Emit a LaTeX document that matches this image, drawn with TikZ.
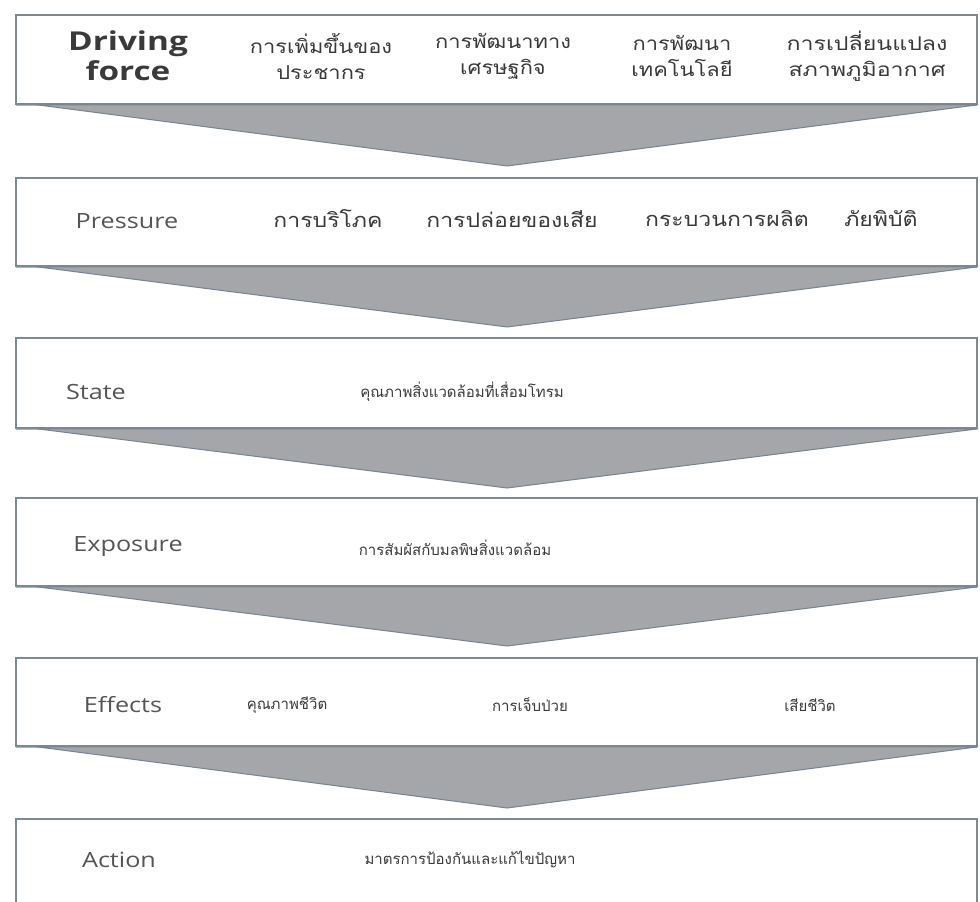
\documentclass[tikz,border=0pt]{standalone}
\usepackage{fontspec}
\setmainfont{Open Sans}
\newfontfamily\thaifont[Script=Thai]{Loma}
\usetikzlibrary{shadows}
\definecolor{boxc}{HTML}{7C8A96}
\definecolor{trifill}{HTML}{A4A6AA}
\definecolor{tridraw}{HTML}{76848F}
\definecolor{txt}{HTML}{3A3A3A}
\definecolor{labtxt}{HTML}{555555}
\newcommand\wideby[2]{\scalebox{#1}[1]{#2}}
\newcommand\wl[1]{\wideby{1.2}{#1}}
\newcommand\wt[1]{\wideby{1.15}{#1}}
\tikzset{
  stagebox/.style={draw=boxc, line width=1.8pt, fill=white, rectangle,
    minimum width=961pt, minimum height=#1, inner sep=0pt, anchor=north west,
    drop shadow={shadow xshift=0pt, shadow yshift=-2.5pt, fill=boxc!80, opacity=0.8}},
  tri/.style={fill=trifill, draw=tridraw, line width=1pt, line join=round},
  lab/.style={text=labtxt, font=\fontsize{21}{24}\selectfont, anchor=center},
  biglab/.style={text=txt, font=\fontsize{26}{30}\selectfont\bfseries, align=center, anchor=center},
  th/.style={text=txt, font=\thaifont\fontsize{20}{26}\selectfont, align=center, anchor=center},
  thtop/.style={text=txt, font=\thaifont\fontsize{19}{26}\selectfont, align=center, anchor=center},
  ths/.style={text=txt, font=\thaifont\fontsize{15}{20}\selectfont, anchor=center},
}
\begin{document}
\begin{tikzpicture}[x=1pt,y=-1pt]
\useasboundingbox (0,0) rectangle (980,902);
\fill[white] (0,0) rectangle (980,902);

% boxes
\node[stagebox=89pt] (b1) at (15,14) {};
\node[stagebox=88pt] (b2) at (15,177) {};
\node[stagebox=90pt] (b3) at (15,337) {};
\node[stagebox=88pt] (b4) at (15,497) {};
\node[stagebox=88pt] (b5) at (15,657) {};
\node[stagebox=110pt] (b6) at (15,818) {};

% apex coordinates
\coordinate (a1) at (507,166);
\coordinate (a2) at (507,327);
\coordinate (a3) at (507,488);
\coordinate (a4) at (507,646);
\coordinate (a5) at (507,808);

% arrows (triangles)
\filldraw[tri] ([xshift=22pt]b1.south west) -- (b1.south east) -- (a1) -- cycle;
\filldraw[tri] ([xshift=22pt]b2.south west) -- (b2.south east) -- (a2) -- cycle;
\filldraw[tri] ([xshift=22pt]b3.south west) -- (b3.south east) -- (a3) -- cycle;
\filldraw[tri] ([xshift=22pt]b4.south west) -- (b4.south east) -- (a4) -- cycle;
\filldraw[tri] ([xshift=22pt]b5.south west) -- (b5.south east) -- (a5) -- cycle;

% Driving force
\node[biglab] (df) at (128,56) {\wideby{1.28}{Driving}\\\wideby{1.28}{force}};
\node[thtop] (d1) at (321,56) {\wt{การเพิ่มขึ้นของ}\\\wt{ประชากร}};
\node[thtop] (d2) at (503,56) {\wt{การพัฒนาทาง}\\\wt{เศรษฐกิจ}};
\node[thtop] (d3) at (682,56) {\wt{การพัฒนา}\\\wt{เทคโนโลยี}};
\node[thtop] (d4) at (867,56) {\wideby{1.22}{การเปลี่ยนแปลง}\\\wideby{1.22}{สภาพภูมิอากาศ}};

% Pressure
\node[lab] (pr) at (127,221) {\wl{Pressure}};
\node[th] (p1) at (328,219) {\wt{การบริโภค}};
\node[th] (p2) at (512,219) {\wt{การปล่อยของเสีย}};
\node[th] (p3) at (727,219) {\wt{กระบวนการผลิต}};
\node[th] (p4) at (881,219) {\wt{ภัยพิบัติ}};

% State
\node[lab] (st) at (96,392) {\wl{State}};
\node[ths] (s1) at (462,392) {คุณภาพสิ่งแวดล้อมที่เสื่อมโทรม};

% Exposure
\node[lab] (ex) at (128,547) {\wl{Exposure}};
\node[ths] (e1) at (455,548) {การสัมผัสกับมลพิษสิ่งแวดล้อม};

% Effects
\node[lab] (ef) at (123,705) {\wl{Effects}};
\node[ths] (f1) at (287,705) {คุณภาพชีวิต};
\node[ths] (f2) at (530,705) {การเจ็บป่วย};
\node[ths] (f3) at (810,705) {เสียชีวิต};

% Action
\node[lab] (ac) at (119,860) {\wl{Action}};
\node[ths] (c1) at (470,859) {มาตรการป้องกันและแก้ไขปัญหา};
\end{tikzpicture}
\end{document}
